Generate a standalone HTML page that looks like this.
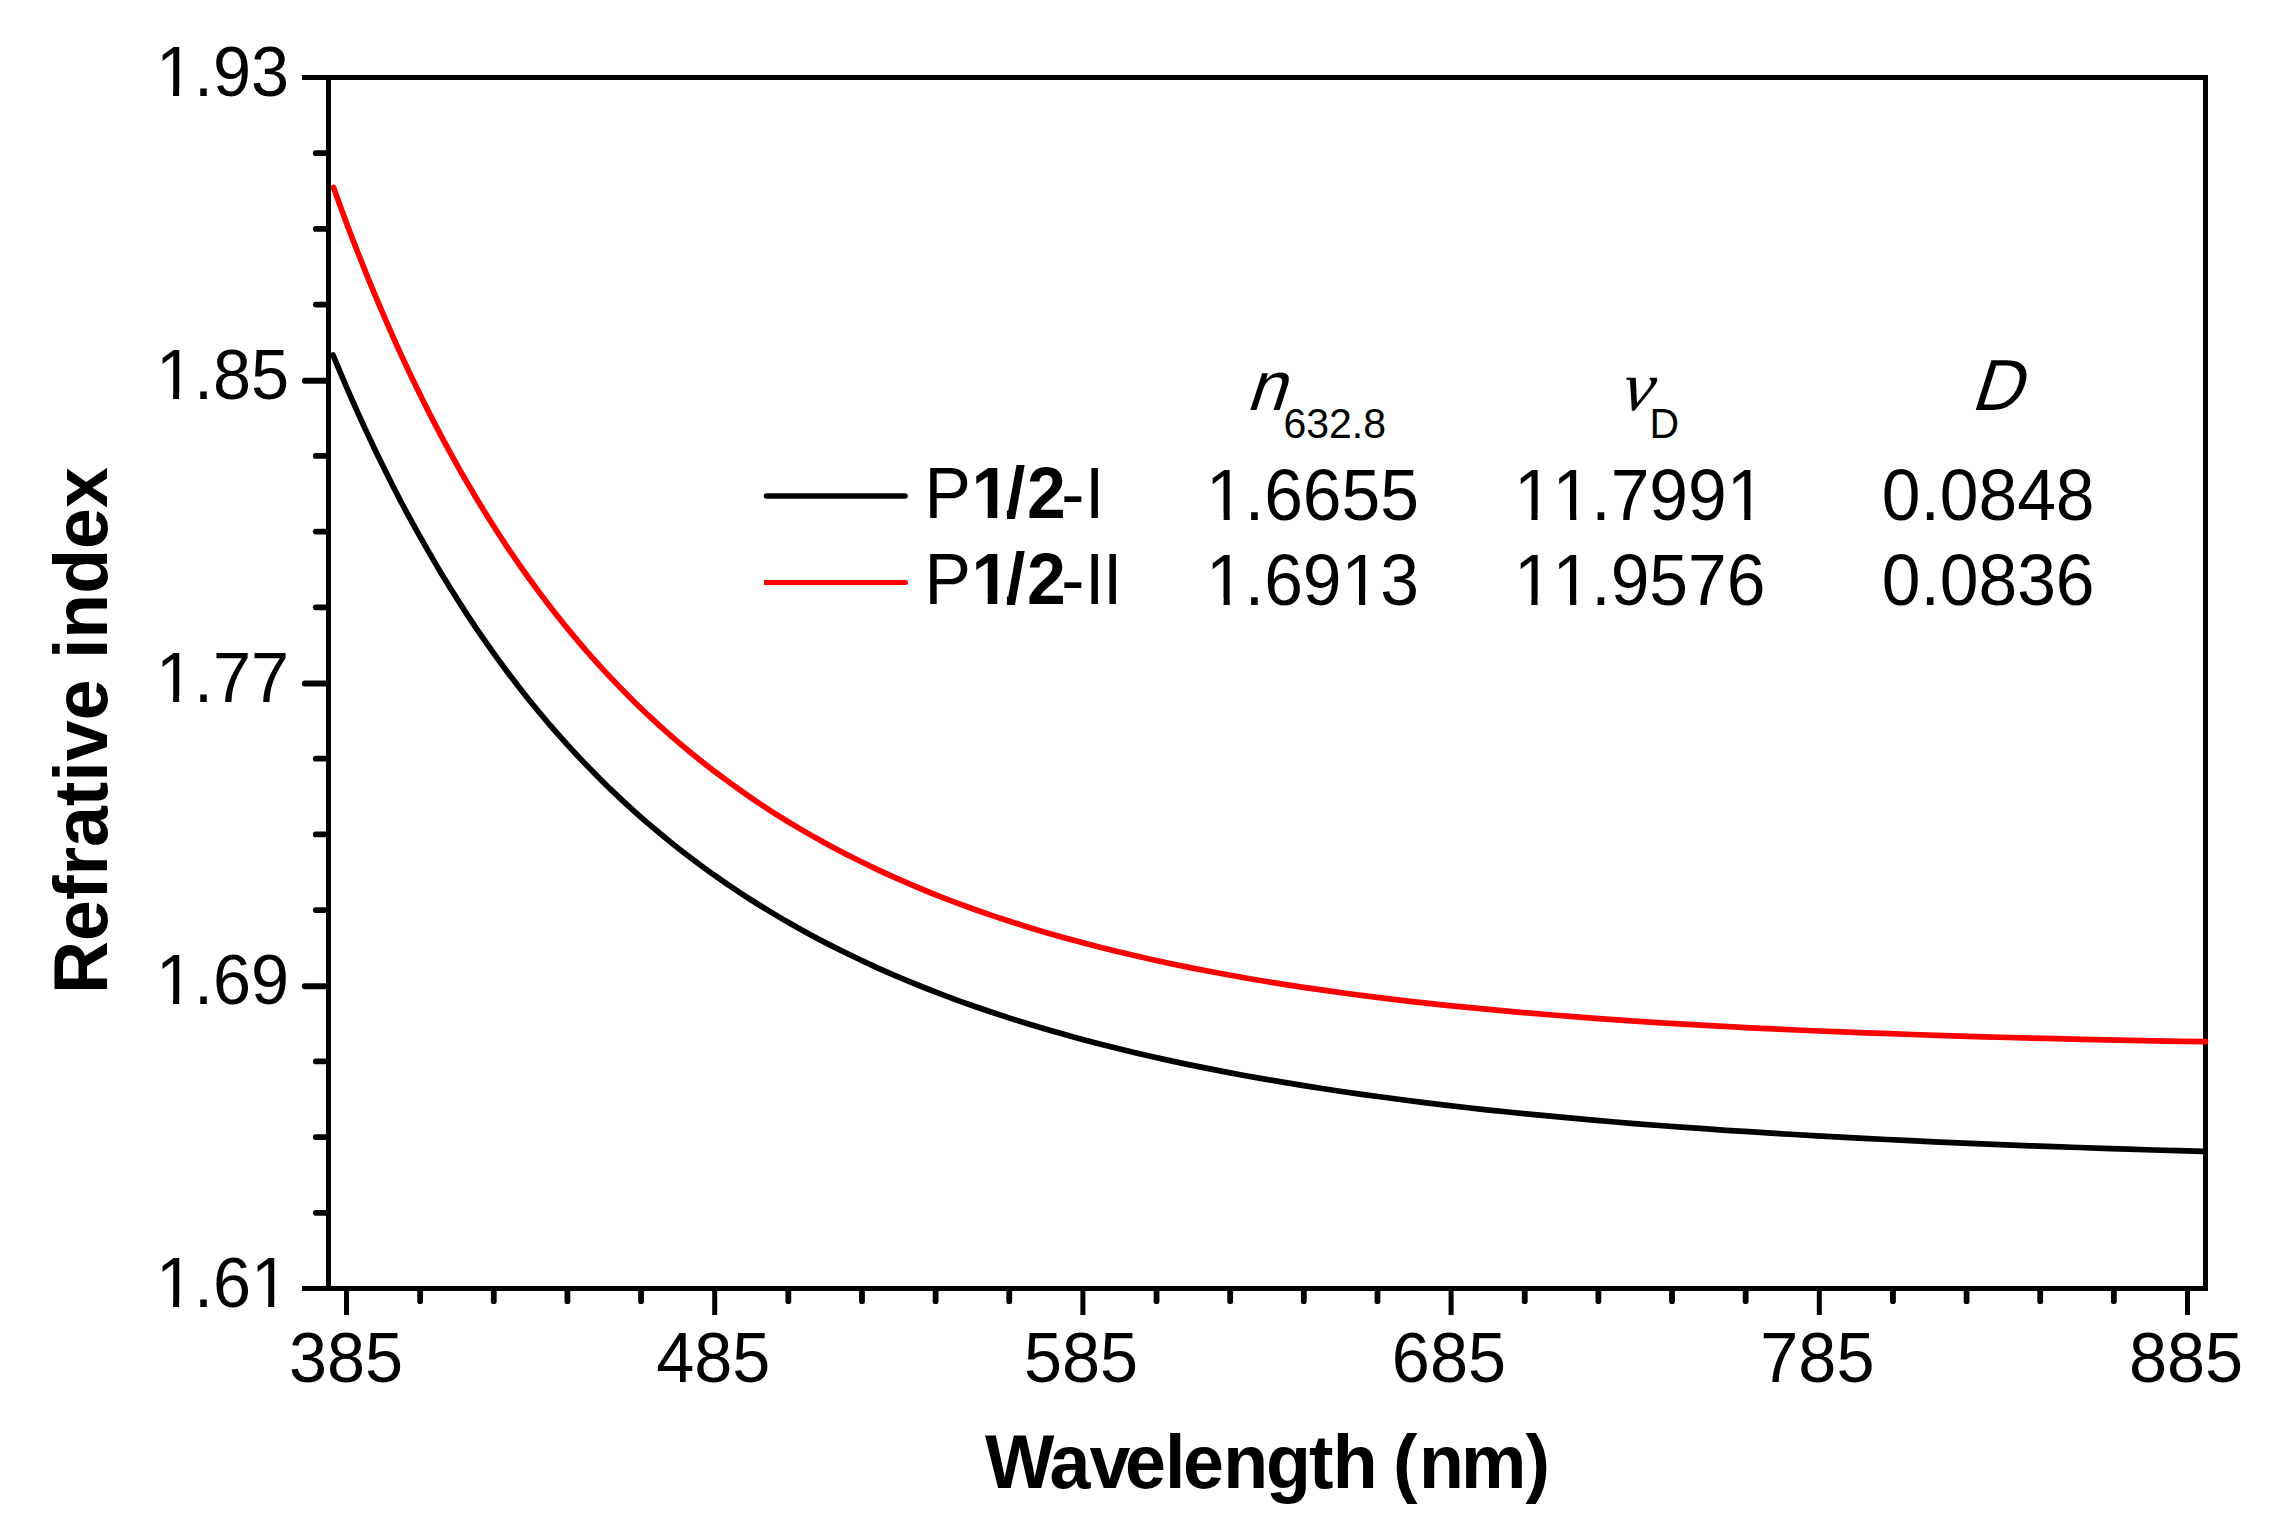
<!DOCTYPE html>
<html lang="en"><head><meta charset="utf-8"><title>Refractive index vs wavelength</title>
<style>html,body{margin:0;padding:0;background:#fff}svg{display:block}text{font-family:"Liberation Sans",sans-serif;fill:#000;font-kerning:none}.t{font-size:68.4px}.l{font-size:69.6px}.s{font-size:41px}.b{font-weight:bold;font-size:73.5px}.nu{font-family:"Liberation Serif","DejaVu Serif",serif;font-style:italic}</style></head><body>
<svg width="2288" height="1532" viewBox="0 0 2288 1532">
<rect width="2288" height="1532" fill="#fff"/>
<path d="M333.0,355.0 L333.9,357.1 L335.7,361.5 L338.2,367.4 L341.2,374.6 L344.7,382.9 L348.7,392.1 L353.1,402.1 L357.9,412.8 L363.0,424.2 L368.6,436.1 L374.4,448.5 L380.6,461.3 L387.1,474.5 L393.9,488.0 L401.0,501.7 L408.4,515.6 L416.1,529.7 L424.1,543.9 L432.3,558.2 L440.8,572.6 L449.6,586.9 L458.6,601.3 L467.8,615.6 L477.3,629.8 L487.1,643.9 L497.0,657.9 L507.2,671.8 L517.7,685.5 L528.3,699.0 L539.2,712.3 L550.3,725.5 L561.7,738.4 L573.2,751.1 L585.0,763.6 L596.9,775.8 L609.1,787.9 L621.5,799.6 L634.0,811.1 L646.8,822.4 L659.8,833.3 L673.0,844.1 L686.3,854.5 L699.9,864.7 L713.6,874.7 L727.6,884.4 L741.7,893.8 L756.0,903.0 L770.5,911.9 L785.1,920.6 L800.0,929.0 L815.0,937.2 L830.2,945.1 L845.6,952.8 L861.2,960.3 L876.9,967.6 L892.8,974.6 L908.9,981.4 L925.2,988.0 L941.6,994.4 L958.2,1000.6 L974.9,1006.5 L991.9,1012.3 L1008.9,1017.9 L1026.2,1023.3 L1043.6,1028.6 L1061.2,1033.6 L1078.9,1038.5 L1096.8,1043.2 L1114.9,1047.8 L1133.1,1052.2 L1151.4,1056.5 L1169.9,1060.6 L1188.6,1064.6 L1207.5,1068.4 L1226.4,1072.1 L1245.6,1075.7 L1264.9,1079.1 L1284.3,1082.4 L1303.9,1085.6 L1323.6,1088.7 L1343.5,1091.7 L1363.5,1094.6 L1383.7,1097.3 L1404.1,1100.0 L1424.5,1102.6 L1445.2,1105.1 L1465.9,1107.5 L1486.8,1109.8 L1507.9,1112.0 L1529.1,1114.1 L1550.4,1116.2 L1571.9,1118.2 L1593.5,1120.1 L1615.2,1122.0 L1637.1,1123.8 L1659.2,1125.5 L1681.3,1127.1 L1703.7,1128.7 L1726.1,1130.3 L1748.7,1131.7 L1771.4,1133.2 L1794.3,1134.5 L1817.2,1135.8 L1840.4,1137.1 L1863.6,1138.3 L1887.0,1139.5 L1910.5,1140.7 L1934.2,1141.8 L1958.0,1142.8 L1981.9,1143.8 L2006.0,1144.8 L2030.1,1145.8 L2054.4,1146.7 L2078.9,1147.5 L2103.4,1148.4 L2128.1,1149.2 L2153.0,1150.0 L2177.9,1150.7 L2203.0,1151.4" fill="none" stroke="#000" stroke-width="5.7" stroke-linecap="round" stroke-linejoin="round"/>
<g stroke="#000" stroke-width="5" fill="none">
<path d="M302,77.5H2208M302,1288.5H2208M328.5,75V1291M2205.5,75V1291"/>
<path d="M304.8,380.75H327" stroke-width="5.8" stroke-linecap="round"/>
<path d="M304.8,683.50H327" stroke-width="5.8" stroke-linecap="round"/>
<path d="M304.8,986.25H327" stroke-width="5.8" stroke-linecap="round"/>
<path d="M346.50,1290V1315"/>
<path d="M714.70,1290V1315"/>
<path d="M1082.90,1290V1315"/>
<path d="M1451.10,1290V1315"/>
<path d="M1819.30,1290V1315"/>
<path d="M2187.50,1290V1315"/>
</g>
<g stroke="#000" stroke-width="5.8" fill="none" stroke-linecap="round">
<path d="M315.8,153.19H327"/>
<path d="M315.8,228.88H327"/>
<path d="M315.8,304.56H327"/>
<path d="M315.8,455.94H327"/>
<path d="M315.8,531.62H327"/>
<path d="M315.8,607.31H327"/>
<path d="M315.8,758.69H327"/>
<path d="M315.8,834.38H327"/>
<path d="M315.8,910.06H327"/>
<path d="M315.8,1061.44H327"/>
<path d="M315.8,1137.12H327"/>
<path d="M315.8,1212.81H327"/>
<path d="M420.14,1290V1301.2"/>
<path d="M493.78,1290V1301.2"/>
<path d="M567.42,1290V1301.2"/>
<path d="M641.06,1290V1301.2"/>
<path d="M788.34,1290V1301.2"/>
<path d="M861.98,1290V1301.2"/>
<path d="M935.62,1290V1301.2"/>
<path d="M1009.26,1290V1301.2"/>
<path d="M1156.54,1290V1301.2"/>
<path d="M1230.18,1290V1301.2"/>
<path d="M1303.82,1290V1301.2"/>
<path d="M1377.46,1290V1301.2"/>
<path d="M1524.74,1290V1301.2"/>
<path d="M1598.38,1290V1301.2"/>
<path d="M1672.02,1290V1301.2"/>
<path d="M1745.66,1290V1301.2"/>
<path d="M1892.94,1290V1301.2"/>
<path d="M1966.58,1290V1301.2"/>
<path d="M2040.22,1290V1301.2"/>
<path d="M2113.86,1290V1301.2"/>
</g>
<path d="M333.5,187.4 L334.4,189.9 L336.2,194.9 L338.7,201.8 L341.7,210.1 L345.2,219.6 L349.2,230.2 L353.6,241.7 L358.4,254.0 L363.6,267.0 L369.1,280.7 L375.0,294.9 L381.2,309.6 L387.7,324.7 L394.5,340.1 L401.6,355.8 L409.0,371.7 L416.7,387.7 L424.7,403.9 L432.9,420.1 L441.4,436.4 L450.2,452.6 L459.2,468.8 L468.5,485.0 L478.0,501.0 L487.7,516.8 L497.7,532.6 L507.9,548.1 L518.4,563.4 L529.1,578.5 L540.0,593.4 L551.1,608.0 L562.4,622.3 L574.0,636.4 L585.7,650.2 L597.7,663.7 L609.9,676.9 L622.3,689.8 L634.9,702.4 L647.6,714.7 L660.6,726.7 L673.8,738.3 L687.2,749.7 L700.8,760.7 L714.5,771.4 L728.5,781.8 L742.6,791.9 L756.9,801.8 L771.4,811.3 L786.1,820.5 L801.0,829.4 L816.1,838.1 L831.3,846.4 L846.7,854.5 L862.3,862.3 L878.0,869.9 L893.9,877.2 L910.0,884.2 L926.3,891.0 L942.7,897.6 L959.4,903.9 L976.1,910.0 L993.1,915.9 L1010.2,921.5 L1027.4,927.0 L1044.9,932.2 L1062.5,937.3 L1080.2,942.1 L1098.1,946.8 L1116.2,951.3 L1134.4,955.6 L1152.8,959.8 L1171.3,963.8 L1190.0,967.6 L1208.9,971.3 L1227.9,974.8 L1247.1,978.2 L1266.4,981.5 L1285.8,984.6 L1305.4,987.6 L1325.2,990.4 L1345.1,993.2 L1365.2,995.8 L1385.4,998.4 L1405.7,1000.8 L1426.2,1003.1 L1446.8,1005.3 L1467.6,1007.4 L1488.6,1009.4 L1509.6,1011.4 L1530.8,1013.2 L1552.2,1015.0 L1573.7,1016.7 L1595.3,1018.3 L1617.1,1019.9 L1639.0,1021.4 L1661.1,1022.8 L1683.3,1024.1 L1705.6,1025.4 L1728.1,1026.6 L1750.7,1027.8 L1773.4,1028.9 L1796.3,1030.0 L1819.3,1031.0 L1842.5,1031.9 L1865.8,1032.8 L1889.2,1033.7 L1912.7,1034.5 L1936.4,1035.3 L1960.2,1036.1 L1984.2,1036.8 L2008.2,1037.5 L2032.4,1038.1 L2056.8,1038.7 L2081.2,1039.3 L2105.8,1039.8 L2130.6,1040.3 L2155.4,1040.8 L2180.4,1041.3 L2205.5,1041.7" fill="none" stroke="#f00" stroke-width="5.7" stroke-linecap="round" stroke-linejoin="round"/>
<text class="t" transform="translate(0,96.1) scale(1,1.04)" x="289" text-anchor="end">1.93</text>
<rect x="159.88" y="89.59" width="13.19" height="7.91" fill="#fff"/><rect x="179.12" y="89.59" width="12.66" height="7.91" fill="#fff"/>
<text class="t" transform="translate(0,398.9) scale(1,1.04)" x="289" text-anchor="end">1.85</text>
<rect x="159.88" y="392.39" width="13.19" height="7.91" fill="#fff"/><rect x="179.12" y="392.39" width="12.66" height="7.91" fill="#fff"/>
<text class="t" transform="translate(0,701.6) scale(1,1.04)" x="289" text-anchor="end">1.77</text>
<rect x="159.88" y="695.09" width="13.19" height="7.91" fill="#fff"/><rect x="179.12" y="695.09" width="12.66" height="7.91" fill="#fff"/>
<text class="t" transform="translate(0,1004.4) scale(1,1.04)" x="289" text-anchor="end">1.69</text>
<rect x="159.88" y="997.89" width="13.19" height="7.91" fill="#fff"/><rect x="179.12" y="997.89" width="12.66" height="7.91" fill="#fff"/>
<text class="t" transform="translate(0,1307.1) scale(1,1.04)" x="289" text-anchor="end">1.61</text>
<rect x="159.88" y="1300.59" width="13.19" height="7.91" fill="#fff"/><rect x="179.12" y="1300.59" width="12.66" height="7.91" fill="#fff"/><rect x="254.97" y="1300.59" width="13.19" height="7.91" fill="#fff"/><rect x="274.20" y="1300.59" width="12.66" height="7.91" fill="#fff"/>
<text class="t" transform="translate(0,1382.3) scale(1,1.04)" x="346.0" text-anchor="middle">385</text>
<text class="t" transform="translate(0,1382.3) scale(1,1.04)" x="713.3" text-anchor="middle">485</text>
<text class="t" transform="translate(0,1382.3) scale(1,1.04)" x="1081.0" text-anchor="middle">585</text>
<text class="t" transform="translate(0,1382.3) scale(1,1.04)" x="1448.9" text-anchor="middle">685</text>
<text class="t" transform="translate(0,1382.3) scale(1,1.04)" x="1817.4" text-anchor="middle">785</text>
<text class="t" transform="translate(0,1382.3) scale(1,1.04)" x="2186.1" text-anchor="middle">885</text>
<text class="b" transform="translate(0,1488) scale(1,1.04)" x="985 1049.6 1089.6 1125.1 1164.9 1183.1 1223.2 1266 1309 1332.8 1375.2 1392.9 1419.1 1461.1 1525.5" >Wavelength (nm)</text>
<text class="b" transform="translate(107,994) rotate(-90) scale(1,1.04)">Refrative index</text>
<path d="M766.5,496H905" stroke="#000" stroke-width="5.6" stroke-linecap="round"/>
<path d="M764,582.5H905.5" stroke="#f00" stroke-width="5"/><circle cx="905.5" cy="582.5" r="2.5" fill="#f00"/>
<text class="l" transform="translate(0,518) scale(1,1.04)" x="924.5 971.5 1006 1026.9 1061.2 1085" >P<tspan font-weight="bold">1/2</tspan>-I</text>
<rect x="974.68" y="509.41" width="13.06" height="9.99" fill="#fff"/><rect x="997.29" y="509.41" width="9.61" height="9.99" fill="#fff"/>
<text class="l" transform="translate(0,604) scale(1,1.04)" x="924.5 971.5 1006 1026.9 1061.2 1085 1102.9" >P<tspan font-weight="bold">1/2</tspan>-II</text>
<rect x="974.68" y="595.41" width="13.06" height="9.99" fill="#fff"/><rect x="997.29" y="595.41" width="9.61" height="9.99" fill="#fff"/>
<text class="l" transform="translate(1245.6,409.5) skewX(-18) scale(1,1)">n</text>
<text class="s" transform="translate(0,437.7) scale(1,1.04)" x="1283.5" >632.8</text>
<text class="nu" font-size="70" transform="translate(1620.2,409.7) skewX(-9) scale(1.04,1)">ν</text>
<text class="s" transform="translate(0,437.7) scale(1,1.04)" x="1649.6" >D</text>
<text class="l" transform="translate(1970,409.7) skewX(-17.5) scale(1,1.04)">D</text>
<text class="l" transform="translate(0,519.7) scale(1,1.04)" x="1206.1" >1.6655</text>
<rect x="1210.20" y="513.09" width="13.40" height="8.01" fill="#fff"/><rect x="1229.75" y="513.09" width="12.86" height="8.01" fill="#fff"/>
<text class="l" transform="translate(0,519.7) scale(1,1.04)" x="1513.9" >11.7991</text>
<rect x="1518.00" y="513.09" width="13.40" height="8.01" fill="#fff"/><rect x="1537.55" y="513.09" width="12.86" height="8.01" fill="#fff"/><rect x="1556.71" y="513.09" width="13.40" height="8.01" fill="#fff"/><rect x="1576.26" y="513.09" width="12.86" height="8.01" fill="#fff"/><rect x="1730.88" y="513.09" width="13.40" height="8.01" fill="#fff"/><rect x="1750.43" y="513.09" width="12.86" height="8.01" fill="#fff"/>
<text class="l" transform="translate(0,519.7) scale(1,1.04)" x="1881.7" >0.0848</text>

<text class="l" transform="translate(0,604.7) scale(1,1.04)" x="1206.1" >1.6913</text>
<rect x="1210.20" y="598.09" width="13.40" height="8.01" fill="#fff"/><rect x="1229.75" y="598.09" width="12.86" height="8.01" fill="#fff"/><rect x="1345.66" y="598.09" width="13.40" height="8.01" fill="#fff"/><rect x="1365.21" y="598.09" width="12.86" height="8.01" fill="#fff"/>
<text class="l" transform="translate(0,604.7) scale(1,1.04)" x="1513.9" >11.9576</text>
<rect x="1518.00" y="598.09" width="13.40" height="8.01" fill="#fff"/><rect x="1537.55" y="598.09" width="12.86" height="8.01" fill="#fff"/><rect x="1556.71" y="598.09" width="13.40" height="8.01" fill="#fff"/><rect x="1576.26" y="598.09" width="12.86" height="8.01" fill="#fff"/>
<text class="l" transform="translate(0,604.7) scale(1,1.04)" x="1881.7" >0.0836</text>

</svg></body></html>
